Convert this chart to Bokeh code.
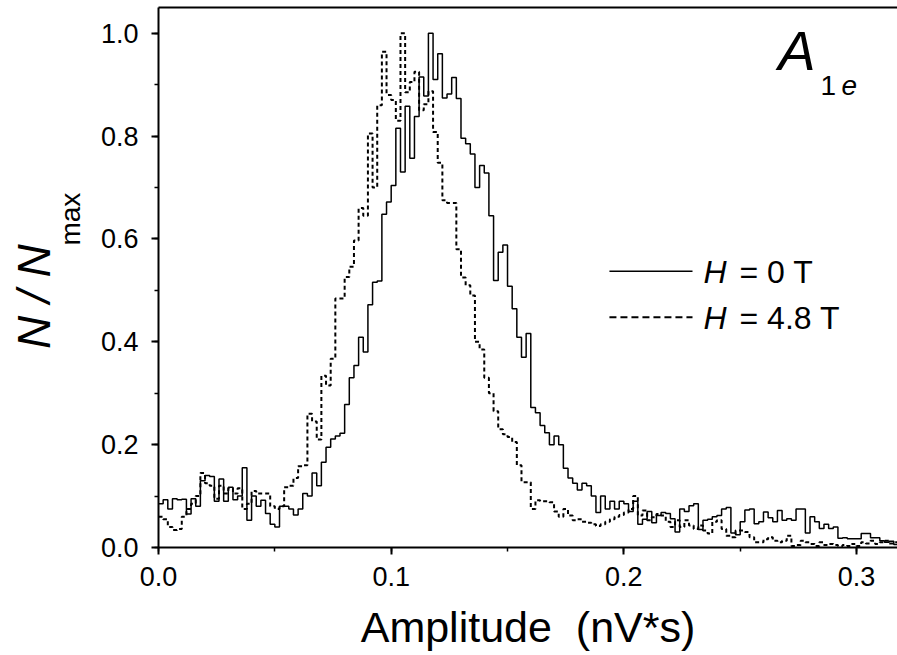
import numpy as np
from bokeh.plotting import figure
from bokeh.models import (Range1d, LinearAxis, SingleIntervalTicker, FixedTicker,
                          PrintfTickFormatter, Label, Arrow)
from bokeh.embed import file_html
from bokeh.resources import INLINE

# ---------------- data (normalised histogram counts, bin width 0.002 nV*s) ----------------
BIN_WIDTH = 0.002

h0_counts = [
    0.085, 0.093, 0.075, 0.095, 0.093, 0.094, 0.065, 0.095, 0.080, 0.130,
    0.140, 0.138, 0.090, 0.133, 0.090, 0.117, 0.093, 0.100, 0.155, 0.053,
    0.100, 0.080, 0.092, 0.066, 0.045, 0.040, 0.080, 0.080, 0.075, 0.063,
    0.075, 0.105, 0.100, 0.145, 0.120, 0.166, 0.195, 0.211, 0.217, 0.222,
    0.278, 0.330, 0.354, 0.409, 0.380, 0.472, 0.516, 0.518, 0.648, 0.672,
    0.704, 0.815, 0.730, 0.858, 0.757, 0.838, 0.915, 0.878, 1.000, 0.910,
    0.960, 0.874, 0.882, 0.914, 0.873, 0.796, 0.785, 0.765, 0.700, 0.743,
    0.728, 0.645, 0.519, 0.574, 0.588, 0.508, 0.464, 0.409, 0.370, 0.416,
    0.272, 0.262, 0.237, 0.223, 0.200, 0.217, 0.200, 0.154, 0.135, 0.125,
    0.112, 0.125, 0.120, 0.100, 0.068, 0.100, 0.075, 0.090, 0.075, 0.090,
    0.085, 0.070, 0.090, 0.045, 0.055, 0.070, 0.048, 0.062, 0.068, 0.066,
    0.056, 0.030, 0.075, 0.070, 0.081, 0.085, 0.035, 0.053, 0.055, 0.060,
    0.062, 0.075, 0.078, 0.028, 0.025, 0.050, 0.073, 0.075, 0.046, 0.050,
    0.069, 0.058, 0.050, 0.072, 0.053, 0.056, 0.053, 0.075, 0.075, 0.028,
    0.060, 0.050, 0.037, 0.045, 0.037, 0.040, 0.018, 0.019, 0.017, 0.017,
    0.017, 0.027, 0.027, 0.019, 0.019, 0.013, 0.010, 0.012, 0.006, 0.006,
]

h48_counts = [
    0.060, 0.055, 0.040, 0.034, 0.036, 0.060, 0.075, 0.085, 0.100, 0.145,
    0.125, 0.120, 0.095, 0.120, 0.105, 0.115, 0.105, 0.115, 0.075, 0.085,
    0.110, 0.105, 0.105, 0.105, 0.080, 0.075, 0.080, 0.117, 0.120, 0.135,
    0.158, 0.160, 0.260, 0.245, 0.210, 0.334, 0.315, 0.367, 0.484, 0.484,
    0.526, 0.546, 0.597, 0.660, 0.645, 0.805, 0.700, 0.860, 0.964, 0.880,
    0.870, 0.830, 1.000, 0.885, 0.905, 0.925, 0.850, 0.862, 0.887, 0.808,
    0.748, 0.675, 0.670, 0.670, 0.580, 0.525, 0.510, 0.490, 0.400, 0.385,
    0.330, 0.300, 0.265, 0.230, 0.220, 0.215, 0.205, 0.160, 0.127, 0.127,
    0.075, 0.092, 0.090, 0.090, 0.088, 0.070, 0.060, 0.075, 0.062, 0.053,
    0.055, 0.050, 0.048, 0.045, 0.042, 0.045, 0.050, 0.055, 0.060, 0.063,
    0.068, 0.075, 0.100, 0.062, 0.072, 0.053, 0.059, 0.065, 0.062, 0.050,
    0.040, 0.053, 0.040, 0.053, 0.043, 0.036, 0.043, 0.033, 0.027, 0.050,
    0.053, 0.036, 0.023, 0.020, 0.033, 0.033, 0.030, 0.020, 0.010, 0.010,
    0.016, 0.020, 0.013, 0.010, 0.013, 0.023, 0.003, 0.005, 0.013, 0.010,
    0.007, 0.003, 0.010, 0.005, 0.007, 0.005, 0.003, 0.005, 0.003, 0.007,
    0.003, 0.010, 0.008, 0.013, 0.007, 0.010, 0.013, 0.008, 0.010, 0.008,
]

x_ticks_major = 0.1
y_ticks_major = 0.2
legend_labels = ["= 0 T", "= 4.8 T"]
x_label = "Amplitude \u00a0(nV*s)"
y_label_main = "N / N\u00a0\u00a0\u00a0"
y_label_sub = "\u00a0" * 15 + "max"

FONT = "Liberation Sans"

# ---------------- figure ----------------
p = figure(width=897, height=655, output_backend="svg", toolbar_location=None,
           x_range=Range1d(0, 0.3176), y_range=Range1d(0, 1.05),
           min_border_left=158, min_border_right=0, min_border_top=7,
           min_border_bottom=108)
p.grid.visible = False
p.outline_line_color = None
p.background_fill_color = "white"
p.border_fill_color = "white"

def edges(n):
    return np.arange(n + 1) * BIN_WIDTH

y0 = np.append(h0_counts, h0_counts[-1])
y1 = np.append(h48_counts, h48_counts[-1])
p.step(edges(len(h0_counts)), y0, mode="after", line_color="black", line_width=1.5)
p.step(edges(len(h48_counts)), y1, mode="after", line_color="black", line_width=2,
       line_dash="4 3")

# axes
p.xaxis.ticker = SingleIntervalTicker(interval=x_ticks_major, num_minor_ticks=2)
p.yaxis.ticker = SingleIntervalTicker(interval=y_ticks_major, num_minor_ticks=2)
p.xaxis.formatter = PrintfTickFormatter(format="%.1f")
p.yaxis.formatter = PrintfTickFormatter(format="%.1f")
for ax in (p.xaxis[0], p.yaxis[0]):
    ax.axis_line_width = 2
    ax.axis_line_color = "black"
    ax.major_tick_line_width = 2
    ax.major_tick_line_color = "black"
    ax.minor_tick_line_width = 1.5
    ax.minor_tick_line_color = "black"
    ax.major_tick_in = 0
    ax.major_tick_out = 7
    ax.minor_tick_in = 0
    ax.minor_tick_out = 4
    ax.major_label_text_font = FONT
    ax.major_label_text_font_size = "27px"
    ax.major_label_text_color = "black"
p.xaxis.major_label_standoff = 12
p.yaxis.major_label_standoff = 13

p.xaxis.axis_label = x_label
p.xaxis.axis_label_text_font = FONT
p.xaxis.axis_label_text_font_size = "43px"
p.xaxis.axis_label_text_font_style = "normal"
p.xaxis.axis_label_text_color = "black"
p.xaxis.axis_label_standoff = 14

# the subscript "max" sits on the main y axis (nearest the frame)
p.yaxis.axis_label = y_label_sub
p.yaxis.axis_label_text_font = FONT
p.yaxis.axis_label_text_font_size = "28px"
p.yaxis.axis_label_text_font_style = "normal"
p.yaxis.axis_label_text_color = "black"
p.yaxis.axis_label_standoff = 12

# outer, tick-less axis that only carries "N / N"
ytitle = LinearAxis(ticker=FixedTicker(ticks=[0.5]), axis_line_color=None,
                    major_tick_line_color=None, minor_tick_line_color=None,
                    major_tick_out=0, major_tick_in=0, major_label_standoff=0,
                    major_label_text_font_size="1px", major_label_text_color=None,
                    axis_label=y_label_main, axis_label_text_font=FONT,
                    axis_label_text_font_size="46px", axis_label_text_font_style="italic",
                    axis_label_text_color="black", axis_label_standoff=-8)
p.add_layout(ytitle, "left")

top = LinearAxis(ticker=FixedTicker(ticks=[0.1]), axis_line_width=2, axis_line_color="black",
                 major_tick_line_color=None, minor_tick_line_color=None,
                 major_tick_out=0, major_tick_in=0, major_label_standoff=0,
                 major_label_text_font_size="1px", major_label_text_color=None)
p.add_layout(top, "above")

# panel tag  A_1e
p.add_layout(Label(x=0.2664, y=0.967, text="A", text_font=FONT, text_font_size="56px",
                   text_font_style="italic", text_align="left",
                   text_baseline="alphabetic", text_color="black"))
p.add_layout(Label(x=0.2845, y=0.899, text="1", text_font=FONT, text_font_size="28px",
                   text_align="left", text_baseline="alphabetic", text_color="black"))
p.add_layout(Label(x=0.2935, y=0.899, text="e", text_font=FONT, text_font_size="28px",
                   text_font_style="italic", text_align="left",
                   text_baseline="alphabetic", text_color="black"))

# legend (hand-built to allow italic H)
leg_rows = [(0.537, 0.535, "solid", 1.5), (0.4475, 0.447, "7 4", 2)]
for (ly, ty, dash, lw), lab in zip(leg_rows, legend_labels):
    p.add_layout(Arrow(end=None, x_start=0.1938, y_start=ly, x_end=0.2295, y_end=ly,
                       line_color="black", line_width=lw, line_dash=dash))
    p.add_layout(Label(x=0.2342, y=ty, text="H", text_font=FONT, text_font_size="32px",
                       text_font_style="italic", text_align="left",
                       text_baseline="alphabetic", text_color="black"))
    p.add_layout(Label(x=0.2497, y=ty, text=lab, text_font=FONT, text_font_size="32px",
                       text_align="left", text_baseline="alphabetic", text_color="black"))

open("out.html", "w").write(file_html(p, INLINE))
